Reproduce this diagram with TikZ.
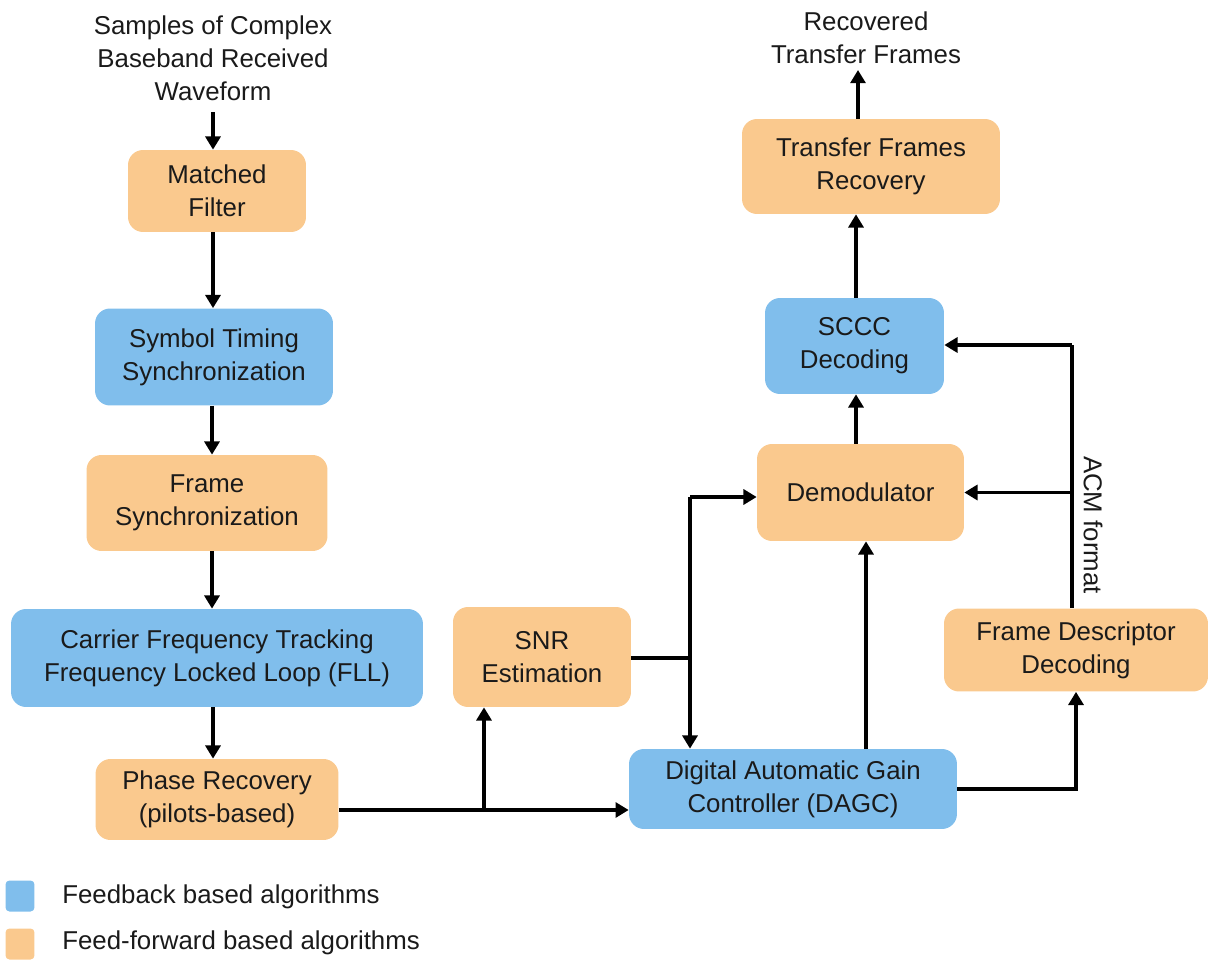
\documentclass[tikz,border=0pt]{standalone}
\usepackage{fontspec}
\setmainfont{Liberation Sans}
\usetikzlibrary{arrows.meta}
\definecolor{fbblue}{RGB}{128,190,236}
\definecolor{ffor}{RGB}{250,201,142}
\definecolor{txt}{RGB}{26,26,26}
\begin{document}
\begin{tikzpicture}[x=0.02cm,y=-0.02cm,
  font=\fontsize{14.7}{18.7}\selectfont, text=txt,
  blk/.style={rounded corners=0.3cm, inner sep=0pt, align=center},
  fbk/.style={blk, fill=fbblue},
  ffw/.style={blk, fill=ffor},
  wire/.style={line width=2.2pt, black},
  arr/.style={wire, -{Triangle[length=7.5pt,width=8.5pt]}},
  lbl/.style={align=center, inner sep=0pt}]
\useasboundingbox (0,0) rectangle (1208,960);

% input / output labels
\node[lbl] (in) at (213,58) {Samples of Complex\\Baseband Received\\Waveform};
\node[lbl] (out) at (866,38) {Recovered\\Transfer Frames};

% left chain
\node[ffw, minimum width=3.56cm, minimum height=1.64cm] (mf) at (217,191) {Matched\\Filter};
\node[fbk, minimum width=4.76cm, minimum height=1.94cm] (sts) at (214,357) {Symbol Timing\\Synchronization};
\node[ffw, minimum width=4.82cm, minimum height=1.92cm] (fs) at (207,503) {Frame\\Synchronization};
\node[fbk, minimum width=8.24cm, minimum height=1.96cm] (cft) at (217,658) {Carrier Frequency Tracking\\Frequency Locked Loop (FLL)};
\node[ffw, minimum width=4.86cm, minimum height=1.62cm] (pr) at (217,799.5) {Phase Recovery\\(pilots-based)};

% right part
\node[ffw, minimum width=3.56cm, minimum height=2.0cm] (snr) at (542,657) {SNR\\Estimation};
\node[fbk, minimum width=6.56cm, minimum height=1.6cm] (dagc) at (793,789) {Digital Automatic Gain\\Controller (DAGC)};
\node[ffw, minimum width=5.28cm, minimum height=1.66cm] (fdd) at (1076,650) {Frame Descriptor\\Decoding};
\node[ffw, minimum width=4.14cm, minimum height=1.94cm] (dem) at (860.5,492.5) {Demodulator};
\node[fbk, minimum width=3.58cm, minimum height=1.92cm] (sccc) at (854.5,346) {SCCC\\Decoding};
\node[ffw, minimum width=5.16cm, minimum height=1.9cm] (tfr) at (871,166.5) {Transfer Frames\\Recovery};

% helper points
\coordinate (intail) at (213,112);
\coordinate (outtip) at (858,70);
\coordinate (brsnr) at (484,810);
\coordinate (jsnr) at (690,658);
\coordinate (jtop) at (690,497);
\coordinate (xgain) at (866,0);
\coordinate (acm) at (1072,345);
\coordinate (acmdem) at (1072,492.5);

% left chain connectors
\draw[arr] (intail) -- (intail |- mf.north);
\draw[arr] (mf.south -| intail) -- (intail |- sts.north);
\draw[arr] (sts.south -| 212,0) -- (212,0 |- fs.north);
\draw[arr] (fs.south -| 212,0) -- (212,0 |- cft.north);
\draw[arr] (cft.south -| intail) -- (intail |- pr.north);

% phase recovery to DAGC and SNR
\draw[arr] (pr.east |- brsnr) -- (dagc.west |- brsnr);
\draw[arr] (brsnr) -- (brsnr |- snr.south);

% SNR estimate to demodulator and DAGC
\draw[wire] (snr.east |- jsnr) -- (jsnr);
\draw[arr] (jtop) -- (jtop -| dem.west);
\draw[arr] (jtop) -- (jtop |- dagc.north);

% DAGC outputs
\draw[arr] (dagc.north -| xgain) -- (xgain |- dem.south);
\draw[arr] (dagc.east) -| (fdd.south);

% ACM format feedback
\draw[wire] (fdd.north -| acm) -- (acm);
\draw[arr] (acm) -- (acm -| sccc.east);
\draw[arr] (acmdem) -- (dem.east);
\node[lbl, rotate=-90] (acmlbl) at (1093,525) {ACM format};

% decoding chain
\draw[arr] (dem.north -| 856,0) -- (856,0 |- sccc.south);
\draw[arr] (sccc.north -| 856,0) -- (856,0 |- tfr.south);
\draw[arr] (tfr.north -| outtip) -- (outtip);

% legend
\node[fill=fbblue, rounded corners=0.08cm, minimum width=0.58cm, minimum height=0.62cm, inner sep=0pt] (lgfb) at (20,896) {};
\node[anchor=west, inner sep=0pt] (lgfbt) at (62,897) {Feedback based algorithms};
\node[fill=ffor, rounded corners=0.08cm, minimum width=0.58cm, minimum height=0.62cm, inner sep=0pt] (lgff) at (20,944) {};
\node[anchor=west, inner sep=0pt] (lgfft) at (62,943) {Feed-forward based algorithms};
\end{tikzpicture}
\end{document}
